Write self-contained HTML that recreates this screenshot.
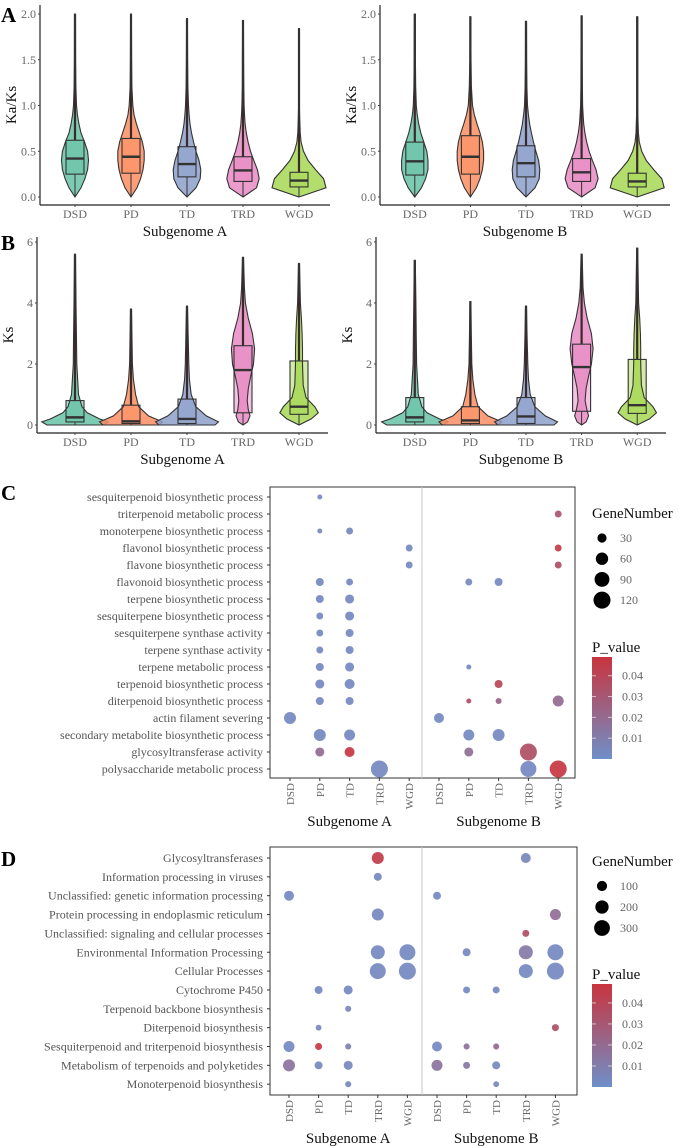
<!DOCTYPE html>
<html><head><meta charset="utf-8">
<style>
html,body{margin:0;padding:0;background:#fff;}
svg{display:block;font-family:"Liberation Serif",serif;}
.tk{fill:#666;font-size:12px;}
.rl{fill:#555;font-size:12px;text-anchor:end;}
.xl{fill:#666;font-size:11px;}
.ax{fill:#111;font-size:15px;}
.pl{fill:#000;font-size:21px;font-weight:bold;}
</style></head>
<body>
<svg id="fig" width="678" height="1146" viewBox="0 0 678 1146" xmlns="http://www.w3.org/2000/svg">
<text class="pl" x="1" y="22">A</text>
<text class="pl" x="1" y="250">B</text>
<text class="pl" x="1" y="500">C</text>
<text class="pl" x="1" y="866">D</text>
<g id="root"></g>
</svg>
<script>
// ===== Panel A / B data =====
const vCats = ["DSD","PD","TD","TRD","WGD"];
const colors = ["#66C2A5","#FC8D62","#8DA0CB","#E78AC3","#A6D854"];
// Ka/Ks subgenome A
const aL_q1 = [0.25,0.26,0.22,0.17,0.11];
const aL_med = [0.42,0.44,0.36,0.29,0.18];
const aL_q3 = [0.62,0.64,0.55,0.44,0.27];
const aL_max = [2.0,2.0,1.95,1.93,1.84];
const aL_dv = [
 [0,.1,.2,.3,.4,.5,.6,.7,.8,.9,1.0,1.2,1.5,2.0],
 [0,.1,.2,.3,.4,.5,.6,.7,.8,.9,1.0,1.2,1.5,2.0],
 [0,.1,.2,.3,.4,.5,.6,.7,.8,.9,1.0,1.2,1.5,1.95],
 [0,.1,.2,.3,.4,.5,.6,.7,.8,.9,1.0,1.2,1.5,1.93],
 [0,.1,.2,.3,.4,.5,.6,.7,.8,.9,1.0,1.2,1.5,1.84]];
const aL_dw = [
 [0,.2,.33,.42,.45,.42,.32,.2,.13,.08,.05,.03,.02,.015],
 [0,.2,.32,.4,.44,.44,.38,.28,.18,.1,.06,.03,.02,.015],
 [0,.3,.44,.46,.4,.3,.22,.15,.1,.07,.05,.03,.02,.015],
 [0,.45,.54,.48,.36,.25,.17,.11,.07,.05,.035,.025,.02,.015],
 [0,.9,.82,.55,.3,.15,.07,.04,.03,.02,.015,.015,.015,.015]];
// Ka/Ks subgenome B
const aR_q1 = [0.24,0.25,0.22,0.17,0.11];
const aR_med = [0.39,0.44,0.37,0.27,0.17];
const aR_q3 = [0.60,0.67,0.56,0.42,0.26];
const aR_max = [2.0,1.97,1.92,1.98,1.97];
const aR_dv = [
 [0,.1,.2,.3,.4,.5,.6,.7,.8,.9,1.0,1.2,1.5,2.0],
 [0,.1,.2,.3,.4,.5,.6,.7,.8,.9,1.0,1.2,1.5,1.97],
 [0,.1,.2,.3,.4,.5,.6,.7,.8,.9,1.0,1.2,1.5,1.92],
 [0,.1,.2,.3,.4,.5,.6,.7,.8,.9,1.0,1.2,1.5,1.98],
 [0,.1,.2,.3,.4,.5,.6,.7,.8,.9,1.0,1.2,1.5,1.97]];
const aR_dw = [
 [0,.22,.36,.44,.44,.4,.3,.2,.13,.08,.05,.03,.02,.015],
 [0,.2,.32,.4,.44,.44,.4,.32,.22,.13,.07,.035,.02,.015],
 [0,.3,.44,.46,.42,.33,.25,.18,.12,.08,.05,.03,.02,.015],
 [0,.45,.55,.48,.36,.25,.17,.11,.07,.05,.035,.025,.02,.015],
 [0,.9,.82,.55,.3,.15,.07,.04,.03,.02,.015,.015,.015,.015]];
// Ks subgenome A
const bL_q1 = [0.1,0.05,0.05,0.4,0.35];
const bL_med = [0.25,0.12,0.2,1.8,0.6];
const bL_q3 = [0.8,0.65,0.85,2.6,2.1];
const bL_max = [5.6,3.8,3.9,5.5,5.3];
const bL_dv = [
 [0,.1,.2,.4,.6,1,2,3,4,5.6],
 [0,.1,.3,.6,1,1.5,2,3,3.8],
 [0,.1,.3,.6,1,1.5,2,3,3.9],
 [0,.1,.3,.5,.8,1.2,1.6,2,2.5,3,3.5,4,4.5,5.5],
 [0,.2,.4,.6,.9,1.3,2,2.5,3,3.5,4,5.3]];
const bL_dw = [
 [.8,.95,.7,.35,.2,.1,.05,.04,.03,.015],
 [.8,.9,.5,.22,.13,.07,.04,.025,.015],
 [.8,.9,.55,.25,.12,.07,.05,.03,.015],
 [0,.13,.2,.15,.12,.15,.22,.3,.33,.27,.15,.07,.04,.015],
 [0,.35,.55,.45,.2,.12,.1,.1,.09,.07,.04,.015]];
// Ks subgenome B
const bR_q1 = [0.1,0.05,0.05,0.45,0.38];
const bR_med = [0.25,0.15,0.28,1.9,0.65];
const bR_q3 = [0.9,0.6,0.9,2.65,2.15];
const bR_max = [5.4,4.05,3.9,5.6,5.8];
const bR_dv = [
 [0,.1,.2,.4,.6,1,2,3,4,5.4],
 [0,.1,.3,.6,1,1.5,2,3,4.05],
 [0,.1,.3,.6,1,1.5,2,3,3.9],
 [0,.1,.3,.5,.8,1.2,1.6,2,2.5,3,3.5,4,4.5,5.6],
 [0,.2,.4,.6,.9,1.3,2,2.5,3,3.5,4,5.8]];
const bR_dw = [
 [.8,.95,.7,.35,.2,.1,.05,.04,.03,.015],
 [.8,.9,.5,.22,.13,.07,.04,.025,.015],
 [.8,.9,.55,.25,.12,.07,.05,.03,.015],
 [0,.13,.2,.15,.1,.13,.2,.28,.33,.28,.16,.08,.04,.015],
 [0,.35,.55,.45,.2,.12,.1,.1,.09,.07,.04,.015]];
const kaksTicks = ["0.0","0.5","1.0","1.5","2.0"];
const kaksTickVals = [0,0.5,1.0,1.5,2.0];
const ksTicks = ["0","2","4","6"];
const ksTickVals = [0,2,4,6];

// ===== Panel C data =====
const cRows = ["sesquiterpenoid biosynthetic process","triterpenoid metabolic process","monoterpene biosynthetic process","flavonol biosynthetic process","flavone biosynthetic process","flavonoid biosynthetic process","terpene biosynthetic process","sesquiterpene biosynthetic process","sesquiterpene synthase activity","terpene synthase activity","terpene metabolic process","terpenoid biosynthetic process","diterpenoid biosynthetic process","actin filament severing","secondary metabolite biosynthetic process","glycosyltransferase activity","polysaccharide metabolic process"];
const dotCols = ["DSD","PD","TD","TRD","WGD","DSD","PD","TD","TRD","WGD"];
// [row, col, geneNumber, p]
const cDots = [
 [0,1,4,.004],[1,9,14,.03],[2,1,4,.004],[2,2,14,.004],
 [3,4,14,.003],[3,9,14,.045],[4,4,14,.003],[4,9,14,.035],
 [5,1,21,.003],[5,2,14,.003],[5,6,14,.004],[5,7,21,.003],
 [6,1,21,.003],[6,2,29,.003],[7,1,14,.003],[7,2,29,.003],
 [8,1,14,.003],[8,2,21,.003],[9,1,14,.003],[9,2,21,.003],
 [10,1,21,.003],[10,2,29,.003],[10,6,4,.004],
 [11,1,29,.003],[11,2,37,.003],[11,7,21,.04],
 [12,1,21,.003],[12,2,21,.003],[12,6,4,.035],[12,7,9,.025],[12,9,46,.02],
 [13,0,56,.003],[13,5,37,.003],
 [14,1,56,.003],[14,2,46,.003],[14,6,46,.003],[14,7,56,.003],
 [15,1,29,.02],[15,2,37,.048],[15,6,29,.018],[15,8,120,.035],
 [16,3,120,.003],[16,8,105,.003],[16,9,120,.048]];
const cSizeBreaks = [30,60,90,120];

// ===== Panel D data =====
const dRows = ["Glycosyltransferases","Information processing in viruses","Unclassified: genetic information processing","Protein processing in endoplasmic reticulum","Unclassified: signaling and cellular processes","Environmental Information Processing","Cellular Processes","Cytochrome P450","Terpenoid backbone biosynthesis","Diterpenoid biosynthesis","Sesquiterpenoid and triterpenoid biosynthesis","Metabolism of terpenoids and polyketides","Monoterpenoid biosynthesis"];
const dDots = [
 [0,3,156,.045],[0,8,94,.005],[1,3,44,.003],
 [2,0,94,.003],[2,5,44,.003],
 [3,3,156,.003],[3,9,124,.018],[4,8,24,.035],
 [5,3,228,.003],[5,4,311,.003],[5,6,44,.003],[5,8,228,.012],[5,9,311,.003],
 [6,3,311,.003],[6,4,357,.003],[6,8,228,.003],[6,9,357,.003],
 [7,1,44,.003],[7,2,68,.003],[7,6,24,.003],[7,7,24,.003],
 [8,2,8,.004],[9,1,3,.004],[9,9,24,.035],
 [10,0,124,.003],[10,1,24,.048],[10,2,8,.008],[10,5,94,.003],[10,6,8,.015],[10,7,8,.02],
 [11,0,156,.015],[11,1,44,.004],[11,2,68,.004],[11,5,124,.015],[11,6,24,.013],[11,7,44,.004],
 [12,2,8,.004],[12,7,3,.004]];
const dSizeBreaks = [100,200,300];
const pTicks = ["0.01","0.02","0.03","0.04"];
const pTickVals = [0.01,0.02,0.03,0.04];

// ===== drawing =====
const NS = "http://www.w3.org/2000/svg";
const root = document.getElementById("root");
function mk(tag, attrs, parent){
  const e = document.createElementNS(NS, tag);
  for (const k in attrs) e.setAttribute(k, attrs[k]);
  (parent||root).appendChild(e);
  return e;
}
function hexToRgb(h){return [parseInt(h.substr(1,2),16),parseInt(h.substr(3,2),16),parseInt(h.substr(5,2),16)];}
function pColor(p){
  const lo=hexToRgb("#6f8fc8"), hi=hexToRgb("#c9343e");
  const t=Math.max(0,Math.min(1,p/0.049));
  return "rgb("+lo.map((v,i)=>Math.round(v+(hi[i]-v)*t)).join(",")+")";
}

function violinPanel(P){
  const g = mk("g",{});
  
  
  const y = v => P.y0 - (v - P.vmin) * P.pxPer;
  const step = (P.r1 - P.r0) / vCats.length;
  const x = i => P.r0 + step * (i + 0.5);
  const ya = mk("line",{x1:P.ax,y1:P.axTop,x2:P.ax,y2:P.axY,stroke:"#222","stroke-width":1.2},g);
  
  
  const xa = mk("line",{x1:P.ax,y1:P.axY,x2:P.axEnd,y2:P.axY,stroke:"#222","stroke-width":1.2},g);
  
  
  P.tickVals.forEach((tv,i)=>{
    const t = mk("text",{x:P.ax-4,y:y(tv)+4,"text-anchor":"end",class:"tk"},g);
    t.textContent = P.ticks[i];
    
    
    mk("line",{x1:P.ax-2,y1:y(tv),x2:P.ax,y2:y(tv),stroke:"#444"},g);
  });
  vCats.forEach((c,i)=>{
    const t = mk("text",{x:x(i),y:P.axY+13,"text-anchor":"middle",class:"tk"},g);
    t.textContent = c;
    
    
    mk("line",{x1:x(i),y1:P.axY,x2:x(i),y2:P.axY+2,stroke:"#444"},g);
  });
  const xt = mk("text",{x:(P.ax+P.axEnd)/2,y:P.axY+31,"text-anchor":"middle",class:"ax"},g);
  xt.textContent = P.xtitle;
  
  
  const yt = mk("text",{x:0,y:0,"text-anchor":"middle",class:"ax",transform:"translate("+(P.ax-24)+","+((P.axTop+P.axY)/2)+") rotate(-90)"},g);
  yt.textContent = P.ytitle;
  
  
  vCats.forEach((c,i)=>{
    const cx = x(i), dv = P.dv[i], dw = P.dw[i];
    let pts = [];
    for (let k=0;k<dv.length;k++) pts.push((cx+dw[k]*P.wScale).toFixed(1)+","+y(dv[k]).toFixed(1));
    for (let k=dv.length-1;k>=0;k--) pts.push((cx-dw[k]*P.wScale).toFixed(1)+","+y(dv[k]).toFixed(1));
    const vf = mk("polygon",{points:pts.join(" "),fill:colors[i],"fill-opacity":0.85,stroke:"none"},g);
    
    
    const tail = mk("line",{x1:cx,y1:y(P.q3[i]),x2:cx,y2:y(P.max[i]),stroke:"#3a2a2a","stroke-width":2.2},g);
    
    
    mk("line",{x1:cx,y1:y(0),x2:cx,y2:y(P.q1[i]),stroke:"#333","stroke-width":1},g);
    const bh = P.boxHalf;
    const bx = mk("rect",{x:cx-bh,y:y(P.q3[i]),width:bh*2,height:y(P.q1[i])-y(P.q3[i]),fill:colors[i],"fill-opacity":0.5,stroke:"none"},g);
    
    
    mk("polygon",{points:pts.join(" "),fill:"none",stroke:"#333","stroke-width":1.1},g);
    mk("rect",{x:cx-bh,y:y(P.q3[i]),width:bh*2,height:y(P.q1[i])-y(P.q3[i]),fill:"none",stroke:"#333","stroke-width":1.1},g);
    const md = mk("line",{x1:cx-bh,y1:y(P.med[i]),x2:cx+bh,y2:y(P.med[i]),stroke:"#333","stroke-width":2.4},g);
    
    
  });
}
violinPanel({name:"kaks-subgenome-a",vmin:0,y0:197,pxPer:91.5,r0:47,r1:327,ax:40,axEnd:330,axTop:5,axY:205,wScale:30,boxHalf:9,
  q1:aL_q1,med:aL_med,q3:aL_q3,max:aL_max,dv:aL_dv,dw:aL_dw,ticks:kaksTicks,tickVals:kaksTickVals,xtitle:"Subgenome A",ytitle:"Ka/Ks"});
violinPanel({name:"kaks-subgenome-b",vmin:0,y0:197,pxPer:91.5,r0:387,r1:665,ax:380,axEnd:670,axTop:5,axY:205,wScale:30,boxHalf:9,
  q1:aR_q1,med:aR_med,q3:aR_q3,max:aR_max,dv:aR_dv,dw:aR_dw,ticks:kaksTicks,tickVals:kaksTickVals,xtitle:"Subgenome B",ytitle:"Ka/Ks"});
violinPanel({name:"ks-subgenome-a",vmin:0,y0:425,pxPer:30.5,r0:47,r1:327,ax:37,axEnd:328,axTop:237,axY:433,wScale:35,boxHalf:9,
  q1:bL_q1,med:bL_med,q3:bL_q3,max:bL_max,dv:bL_dv,dw:bL_dw,ticks:ksTicks,tickVals:ksTickVals,xtitle:"Subgenome A",ytitle:"Ks"});
violinPanel({name:"ks-subgenome-b",vmin:0,y0:425,pxPer:30.5,r0:387,r1:665,ax:376,axEnd:666,axTop:237,axY:433,wScale:35,boxHalf:9,
  q1:bR_q1,med:bR_med,q3:bR_q3,max:bR_max,dv:bR_dv,dw:bR_dw,ticks:ksTicks,tickVals:ksTickVals,xtitle:"Subgenome B",ytitle:"Ks"});

function dotPanel(P){
  const g = mk("g",{});
  
  
  const rowY = i => P.rowTop + i * P.rowStep;
  const colX = j => j < 5 ? P.colA + j * P.colStep : P.colB + (j-5) * P.colStep;
  const rad = n => Math.sqrt(P.ra + P.rb * n);
  const box = mk("rect",{x:P.x0,y:P.y0,width:P.x1-P.x0,height:P.y1-P.y0,fill:"#fff",stroke:"#333","stroke-width":1},g);
  
  
  const dv = mk("line",{x1:P.div,y1:P.y0,x2:P.div,y2:P.y1,stroke:"#c8c8c8","stroke-width":1},g);
  
  
  P.rows.forEach((r,i)=>{
    const t = mk("text",{x:P.x0-7,y:rowY(i)+4,class:"rl"},g);
    t.textContent = r;
    
    
    mk("line",{x1:P.x0-3,y1:rowY(i),x2:P.x0,y2:rowY(i),stroke:"#333"},g);
  });
  dotCols.forEach((c,j)=>{
    const t = mk("text",{x:0,y:0,class:"xl","text-anchor":"end",transform:"translate("+(colX(j)+4)+","+(P.y1+5)+") rotate(-90)"},g);
    t.textContent = c;
    
    
    mk("line",{x1:colX(j),y1:P.y1,x2:colX(j),y2:P.y1+3,stroke:"#333"},g);
  });
  ["Subgenome A","Subgenome B"].forEach((s,k)=>{
    const t = mk("text",{x:k===0?colX(2):colX(7),y:P.subY,"text-anchor":"middle",class:"ax"},g);
    t.textContent = s;
    
    
  });
  P.dots.forEach(d=>{
    const c = mk("circle",{cx:colX(d[1]),cy:rowY(d[0]),r:rad(d[2]).toFixed(2),fill:pColor(d[3]),"fill-opacity":0.92},g);
    
    
  });
  const lt = mk("text",{x:P.legX,y:P.legY,class:"ax","font-size":"14"},g);
  lt.textContent = "GeneNumber";
  
  
  P.breaks.forEach((b,i)=>{
    const cy = P.legY + 20 + i * P.legStep;
    const c = mk("circle",{cx:P.legX+10,cy:cy,r:rad(b).toFixed(2),fill:"#000"},g);
    
    
    const t = mk("text",{x:P.legX+28,y:cy+4,class:"tk","font-size":"11"},g);
    t.textContent = b;
    
    
  });
  const pt = mk("text",{x:P.legX,y:P.barTop-5,class:"ax","font-size":"14"},g);
  pt.textContent = "P_value";
  
  
  const gid = "grad" + P.name;
  const defs = mk("defs",{},g);
  const lg = mk("linearGradient",{id:gid,x1:0,y1:1,x2:0,y2:0},defs);
  mk("stop",{offset:0,"stop-color":pColor(0)},lg);
  mk("stop",{offset:0.5,"stop-color":pColor(0.0245)},lg);
  mk("stop",{offset:1,"stop-color":pColor(0.049)},lg);
  const bar = mk("rect",{x:P.legX,y:P.barTop,width:20,height:P.barBot-P.barTop,fill:"url(#"+gid+")"},g);
  
  
  const by = p => P.barBot - p/0.049 * (P.barBot - P.barTop);
  pTickVals.forEach((v,i)=>{
    mk("line",{x1:P.legX,y1:by(v),x2:P.legX+4,y2:by(v),stroke:"#fff","stroke-opacity":0.6},g);
    mk("line",{x1:P.legX+16,y1:by(v),x2:P.legX+20,y2:by(v),stroke:"#fff","stroke-opacity":0.6},g);
    const t = mk("text",{x:P.legX+30,y:by(v)+4,class:"tk","font-size":"11"},g);
    t.textContent = pTicks[i];
    
    
  });
}
dotPanel({name:"go-enrichment",rows:cRows,dots:cDots,breaks:cSizeBreaks,x0:270,x1:575,y0:487,y1:778,div:422,
  rowTop:497,rowStep:17,colA:290,colB:439,colStep:29.8,ra:4,rb:0.57,subY:826,
  legX:592,legY:518,legStep:20.7,barTop:657,barBot:759});
dotPanel({name:"kegg-enrichment",rows:dRows,dots:dDots,breaks:dSizeBreaks,x0:270,x1:577,y0:847,y1:1095,div:422,
  rowTop:858,rowStep:18.85,colA:289,colB:437,colStep:29.6,ra:8,rb:0.18,subY:1143,
  legX:592,legY:866,legStep:21,barTop:984,barBot:1087});
</script>
</body></html>
